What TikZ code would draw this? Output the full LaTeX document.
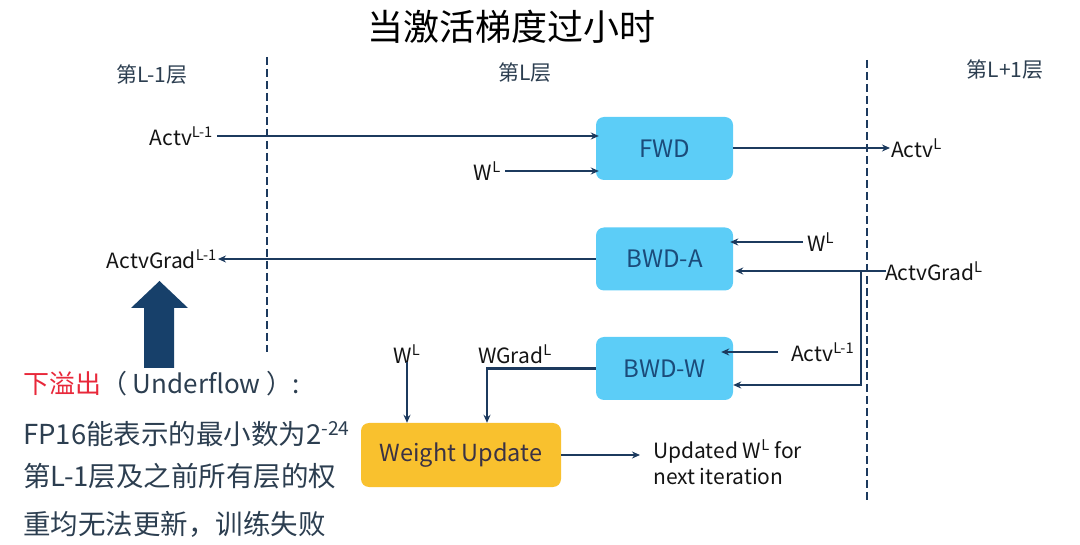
\documentclass[tikz,border=0pt]{standalone}
\usepackage{fontspec}
\setmainfont{Noto Sans CJK SC}
\usetikzlibrary{arrows.meta}
\definecolor{navy}{HTML}{1C3A5E}
\definecolor{boxblue}{HTML}{5CCDF7}
\definecolor{boxtext}{HTML}{1B4B7A}
\definecolor{wuyellow}{HTML}{F9C12E}
\definecolor{wutext}{HTML}{3A3245}
\definecolor{slate}{HTML}{2C3E50}
\definecolor{redx}{HTML}{E8283A}
\definecolor{bigarrow}{HTML}{17406A}
\newcommand\spx[1]{\textsuperscript{#1}}
\begin{document}
\begin{tikzpicture}[x=1pt,y=-1pt,
  blk/.style={fill=boxblue, rounded corners=8pt, minimum width=137pt, minimum height=63pt,
    text=boxtext, font=\fontsize{24}{28}\selectfont, inner sep=0pt},
  wublk/.style={fill=wuyellow, rounded corners=8pt, minimum width=200pt, minimum height=64pt,
    text=wutext, font=\fontsize{23.5}{28}\selectfont, inner sep=0pt},
  lbl/.style={font=\fontsize{21}{25}\selectfont, text=black!92, inner sep=1pt},
  layer/.style={font=\fontsize{21}{25}\selectfont, text=slate, inner sep=0pt},
  conn/.style={draw=navy, line width=2.2pt, -{Stealth[length=8pt,width=7pt]}},
  divider/.style={draw=navy, line width=2.2pt, dash pattern=on 8pt off 4pt},
  side/.style={font=\fontsize{27.5}{32}\selectfont, text=slate, inner sep=0pt, anchor=west},
]
\useasboundingbox (0,0) rectangle (1080,545);

% title
\node[font=\fontsize{36}{40}\selectfont, text=black, inner sep=0pt] (title) at (511,27) {当激活梯度过小时};

% layer labels
\node[layer] (lay1) at (152,75) {第L-1层};
\node[layer] (lay2) at (525,73) {第L层};
\node[layer] (lay3) at (1005,70) {第L+1层};

% dividers
\coordinate (d1t) at (267,57);
\coordinate (d1b) at (267,352);
\coordinate (d2t) at (867,60);
\coordinate (d2b) at (867,503);
\draw[divider] (d1t) -- (d1b);
\draw[divider] (d2t) -- (d2b);

% boxes
\node[blk] (fwd) at (664.5,148.5) {FWD};
\node[blk] (bwda) at (664.5,259) {BWD-A};
\node[blk] (bwdw) at (664.5,368.5) {BWD-W};
\node[wublk] (wu) at (461,455) {Weight Update};

% FWD inputs / output
\node[lbl, anchor=east] (a1) at (214,136) {Actv\spx{L-1}};
\draw[conn] ([xshift=3pt]a1.east) -- ([xshift=3pt]a1.east -| fwd.west);
\node[lbl, anchor=east] (w1) at (502,171) {W\spx{L}};
\draw[conn] ([xshift=3pt]w1.east) -- ([xshift=3pt]w1.east -| fwd.west);
\node[lbl, anchor=west] (aL) at (890,148) {Actv\spx{L}};
\draw[conn] (fwd.east |- aL.west) -- (aL.west);

% BWD-A
\node[lbl, anchor=west] (w2) at (806,242) {W\spx{L}};
\draw[conn] ([xshift=-3pt]w2.west) -- ([xshift=-3pt]w2.west -| bwda.east);
\node[lbl, anchor=west] (agL) at (884,271) {ActvGrad\spx{L}};
\coordinate (jn) at (861,271);
\coordinate (jb) at (861,385);
\draw[conn] ([xshift=2pt]agL.west) -- ([xshift=2pt]agL.west -| bwda.east);
\draw[conn] (jn) -- (jb) -- (jb -| bwdw.east);
\node[lbl, anchor=east] (agL1) at (218,259) {ActvGrad\spx{L-1}};
\draw[conn] (bwda.west |- agL1.east) -- (agL1.east);

% BWD-W
\node[lbl, anchor=west] (a3) at (790,352) {Actv\spx{L-1}};
\draw[conn] ([xshift=-12pt]a3.west) -- ([xshift=-12pt]a3.west -| bwdw.east);
\node[lbl] (wg) at (515,354) {WGrad\spx{L}};
\draw[conn] (bwdw.west) -| ([xshift=26pt]wu.north);
\node[lbl] (w3) at (407,354) {W\spx{L}};
\draw[conn] ([yshift=2pt]w3.south) -- (w3.south |- wu.north);

% Weight update output
\node[lbl, anchor=west, align=left, font=\fontsize{21}{26}\selectfont] (upd) at (652,462)
  {Updated W\spx{L} for\\next iteration};
\draw[conn] (wu.east) -- ([xshift=-12pt]wu.east -| upd.west);

% big up arrow
\fill[bigarrow] (144,368) -- (144,308) -- (131,308) -- (159.5,281) -- (188,308)
  -- (174,308) -- (174,368) -- cycle;

% side text
\node[side, font=\fontsize{26}{30}\selectfont] (s1) at (23,384) {\textcolor{redx}{下溢出}（ Underflow ）:};
\node[side] (s2) at (23,434) {FP16能表示的最小数为2\spx{-24}};
\node[side] (s3) at (23,476) {第L-1层及之前所有层的权};
\node[side] (s4) at (23,524) {重均无法更新，训练失败};
\end{tikzpicture}
\end{document}
